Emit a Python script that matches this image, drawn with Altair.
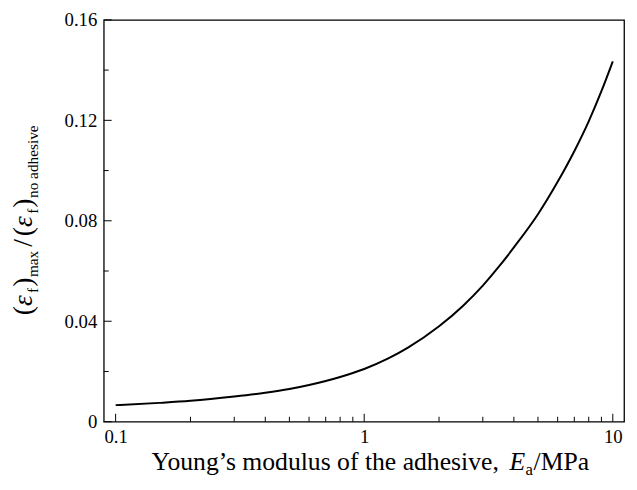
import altair as alt
import pandas as pd

# ---- data ----
E_MPa = [0.1, 0.15, 0.2, 0.3, 0.4, 0.5, 0.6, 0.7, 0.8, 0.9, 1.0, 1.25, 1.5,
         2.0, 2.5, 3.0, 3.5, 4.0, 5.0, 6.0, 7.0, 8.0, 9.0, 10.0]
strain_ratio = [0.0066, 0.0075, 0.0083, 0.0100, 0.0115, 0.0130, 0.0146, 0.0162,
                0.0178, 0.0194, 0.0210, 0.0252, 0.0295, 0.0380, 0.0462, 0.0542,
                0.0620, 0.0694, 0.0826, 0.0955, 0.1077, 0.1196, 0.1316, 0.1435]

x_major = [0.1, 1, 10]
x_minor = [0.2, 0.3, 0.4, 0.5, 0.6, 0.7, 0.8, 0.9, 2, 3, 4, 5, 6, 7, 8, 9]
y_major = [0, 0.04, 0.08, 0.12, 0.16]
y_minor = [0.02, 0.06, 0.10, 0.14]

x_title_parts = ["Young\u2019s modulus of the adhesive,", "E", "a", "/MPa"]
y_title_parts = ["(", "\u03b5", "f", ")", "max", "/", "(", "\u03b5", "f", ")", "no adhesive"]

# ---- layout ----
FONT = "Liberation Serif"
W, H = 527, 407

TIMES = {" ": .25, "(": .333, ")": .333, "/": .278, ",": .25, ".": .25, "\u2019": .333,
         "a": .444, "b": .5, "c": .444, "d": .5, "e": .444, "f": .333, "g": .5, "h": .5,
         "i": .278, "l": .278, "m": .778, "n": .5, "o": .5, "s": .389, "t": .278,
         "u": .5, "v": .5, "x": .5, "E": .611, "M": .889, "P": .556, "Y": .722,
         "\u03b5": .44}


def tw(s, size):
    return sum(TIMES.get(c, .5) for c in s) * size


df = pd.DataFrame({"E": E_MPa, "r": strain_ratio})
xscale = alt.Scale(type="log", domain=[0.0896, 11.1], nice=False)
yscale = alt.Scale(domain=[0, 0.16], nice=False, zero=False)

axis_common = dict(domain=False, ticks=False, grid=False, title=None,
                   labelFont=FONT, labelFontSize=19, labelColor="black")
xaxis = alt.Axis(values=x_major, format="~g", labelPadding=6, **axis_common)
yaxis = alt.Axis(values=y_major, labelPadding=7,
                 labelExpr="datum.value == 0 ? '0' : format(datum.value, '.2f')",
                 **axis_common)

line = alt.Chart(df).mark_line(color="black", strokeWidth=2, interpolate="monotone").encode(
    x=alt.X("E:Q", scale=xscale, axis=xaxis),
    y=alt.Y("r:Q", scale=yscale, axis=yaxis),
)


def xticks(vals, length):
    return alt.Chart(pd.DataFrame({"E": vals})).mark_rule(color="black", strokeWidth=1).encode(
        x=alt.X("E:Q", scale=xscale, axis=xaxis),
        y=alt.value(H), y2=alt.value(H - length))


def yticks(vals, length):
    return alt.Chart(pd.DataFrame({"r": vals})).mark_rule(color="black", strokeWidth=1).encode(
        y=alt.Y("r:Q", scale=yscale, axis=yaxis),
        x=alt.value(0), x2=alt.value(length))


layers = [line, xticks(x_major, 8), xticks(x_minor, 5), yticks(y_major, 8), yticks(y_minor, 5)]

# ---- x title (pieces: regular, italic E, subscript a, regular) ----
XT, XS = 26, 17
xparts = [(x_title_parts[0], XT, False, 0, 0),
          (x_title_parts[1], XT, True, 0, tw(" ", XT)),
          (x_title_parts[2], XS, False, 5, 0.5),
          (x_title_parts[3], XT, False, 0, 0.5)]
total = sum(tw(t, s) + g for t, s, _, _, g in xparts)
cx = 270
pos = cx - total / 2
base_y = 456
for t, s, it, sh, g in xparts:
    pos += g
    layers.append(alt.Chart(pd.DataFrame({"t": [t]})).mark_text(
        font=FONT, fontSize=s, fontStyle="italic" if it else "normal", align="left",
        baseline="alphabetic", color="black").encode(
        x=alt.value(pos), y=alt.value(base_y + sh), text="t:N"))
    pos += tw(t, s)

# ---- y title (rotated pieces) ----
YM, YS = 28, 15.5
yparts = [("(", YM, False, 0, 0), ("\u03b5", YM, True, 0, 0), ("f", YS, False, 6, 1),
          (")", YM, False, 0, 1), ("max", YS, False, 6, 0.5), ("/", YM, False, 0, 4),
          ("(", YM, False, 0, 3), ("\u03b5", YM, True, 0, 0), ("f", YS, False, 6, 1),
          (")", YM, False, 0, 1), ("no adhesive", YS, False, 6, 0.5)]
total_y = sum(tw(t, s) + g for t, s, _, _, g in yparts)
cy = 203
bx = -73
pos = 0
for t, s, it, sh, g in yparts:
    pos += g
    layers.append(alt.Chart(pd.DataFrame({"t": [t]})).mark_text(
        font=FONT, fontSize=s, fontStyle="italic" if it else "normal", align="left",
        baseline="alphabetic", angle=270, color="black").encode(
        x=alt.value(bx + sh), y=alt.value(cy + total_y / 2 - pos), text="t:N"))
    pos += tw(t, s)

chart = alt.layer(*layers).properties(
    width=W, height=H, autosize=alt.AutoSizeParams(type="none"),
    padding={"left": 97, "top": 9, "right": 5, "bottom": 54},
    background="white",
).configure_view(stroke="black", strokeWidth=1.3)

chart.save("out.html", embed_options={"renderer": "svg", "actions": False})
